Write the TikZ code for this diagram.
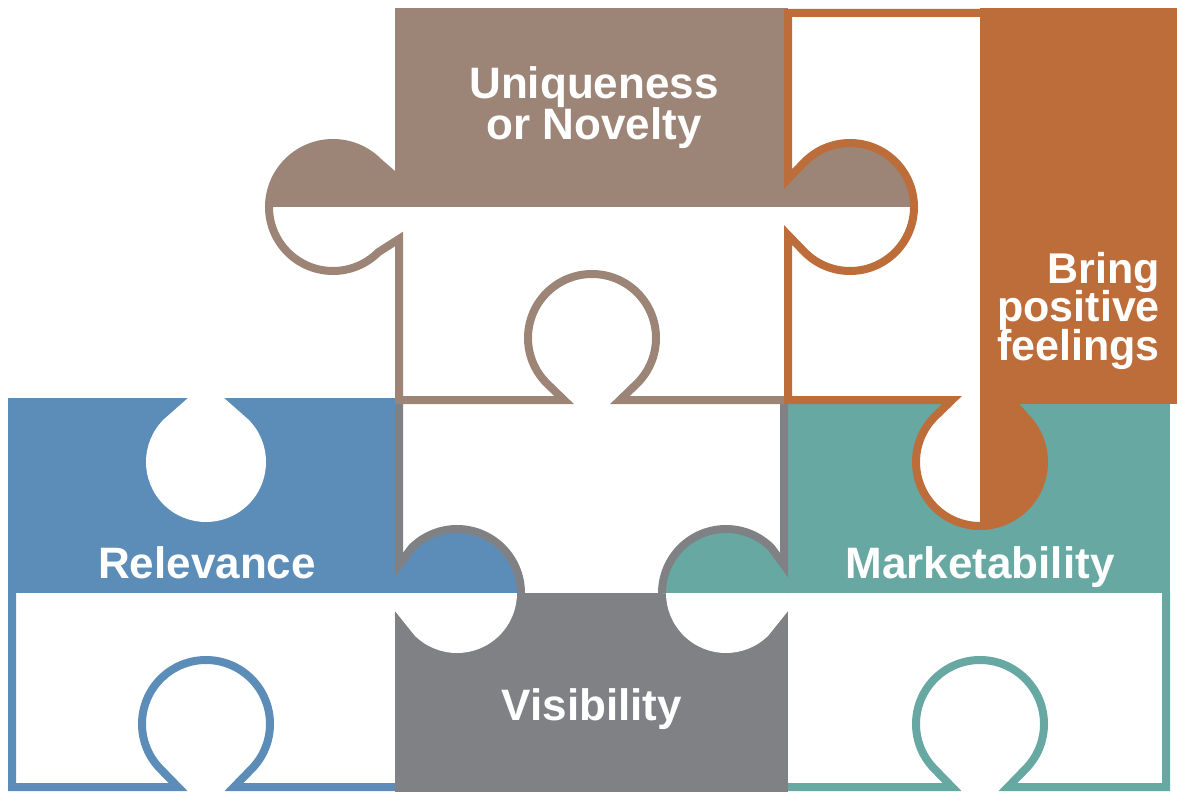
\documentclass[tikz,border=0pt]{standalone}
\usepackage{fontspec}
\setmainfont{Liberation Sans}
\usepackage{tikz}
\usetikzlibrary{calc}

\definecolor{novelbrown}{RGB}{156,133,118}
\definecolor{feelorange}{RGB}{189,109,57}
\definecolor{relevblue}{RGB}{92,141,184}
\definecolor{markteal}{RGB}{104,168,162}
\definecolor{visgrey}{RGB}{128,129,133}

% knob or hole on an edge: mid point, tip angle, turn (1 or -1), radius, half neck, centre distance
\newcommand{\knob}[6]{%
  -- ($(#1)+({#2+#3*90}:#5)$)
  -- ($(#1)+(#2:#6)+({#2+#3*135}:#4)$)
  arc[start angle={#2+#3*135}, end angle={#2-#3*135}, radius=#4]
  -- ($(#1)+({#2-#3*90}:#5)$)}

\lineskiplimit=-40pt

\begin{document}
\begin{tikzpicture}[x=1pt,y=1pt,yscale=-1,
	rim/.style={line width=8pt},
	caption/.style={text=white,inner sep=0pt,font=\bfseries\fontsize{44}{41}\selectfont}]
	\useasboundingbox (0,0) rectangle (1177,794);
	% filled halves
	\fill[relevblue] (8,398) rectangle (395,593);
	\fill[markteal] (788,404) rectangle (1170,593);
	\fill[novelbrown] (395,8) rectangle (788,207);
	\fill[visgrey] (395,593) rectangle (788,792);
	\begin{scope}
		\clip (0,0) rectangle (1177,593);
		\fill[relevblue] (395,593) \knob{395,593}{0}{1}{64}{28}{62} -- cycle;
		\fill[markteal] (788,593) \knob{788,593}{180}{1}{64}{28}{62} -- cycle;
	\end{scope}
	\begin{scope}
		\clip (0,0) rectangle (1177,207);
		\fill[novelbrown] (395,207) \knob{395,207}{180}{1}{68}{36}{62} -- cycle;
		\fill[novelbrown] (788,207) \knob{788,207}{0}{1}{64}{28}{62} -- cycle;
	\end{scope}
	% holes
	\fill[white] (206,398) \knob{206,398}{90}{1}{60}{18}{64} -- cycle;
	\begin{scope}
		\clip (0,593) rectangle (1177,794);
		\fill[white] (395,593) \knob{395,593}{0}{1}{60}{18}{62} -- cycle;
		\fill[white] (788,593) \knob{788,593}{180}{1}{60}{18}{62} -- cycle;
	\end{scope}
	\fill[white] (980,400) \knob{980,400}{90}{1}{64}{28}{62} -- cycle;
	\fill[feelorange] (980,8) rectangle (1177,404);
	\begin{scope}
		\clip (980,0) rectangle (1177,794);
		\fill[feelorange] (980,400) \knob{980,400}{90}{1}{68}{36}{62} -- cycle;
	\end{scope}
	% outlined halves
	\draw[rim,visgrey] (521,593) arc[start angle=0,end angle=-135,radius=64] -- (399,565) -- (399,400);
	\draw[rim,visgrey] (784,400) -- (784,565) -- ($(726,593)+(-45:64)$) arc[start angle=-45,end angle=-180,radius=64];
	\draw[rim,novelbrown] ($(333,207)+(180:64)$) arc[start angle=180,end angle=45,radius=64] -- (399,239) -- (399,400) \knob{592,400}{-90}{-1}{64}{28}{62} -- (788,400);
	\draw[rim,feelorange] (980,13) -- (788,13) \knob{788,207}{0}{-1}{64}{28}{62} -- (788,400) -- (952,400) -- ($(980,462)+(225:64)$) arc[start angle=225,end angle=90,radius=64];
	\draw[rim,relevblue] (12,593) -- (12,787) \knob{206,787}{-90}{-1}{64}{28}{63} -- (395,787);
	\draw[rim,markteal] (1166,593) -- (1166,787) \knob{980,787}{-90}{1}{64}{28}{63} -- (788,787);
	% labels
	\node[caption,align=center,anchor=north] (uniq) at (594,66) {Uniqueness\\or Novelty};
	\node[caption,align=right,anchor=north east,font=\bfseries\fontsize{43}{38.5}\selectfont] (bring) at (1160,252) {Bring\\positive\\feelings};
	\node[caption,anchor=base] (relev) at (207,578) {Relevance};
	\node[caption,anchor=base] (market) at (980,578) {Marketability};
	\node[caption,anchor=base] (visib) at (592,720) {Visibility};
\end{tikzpicture}
\end{document}
